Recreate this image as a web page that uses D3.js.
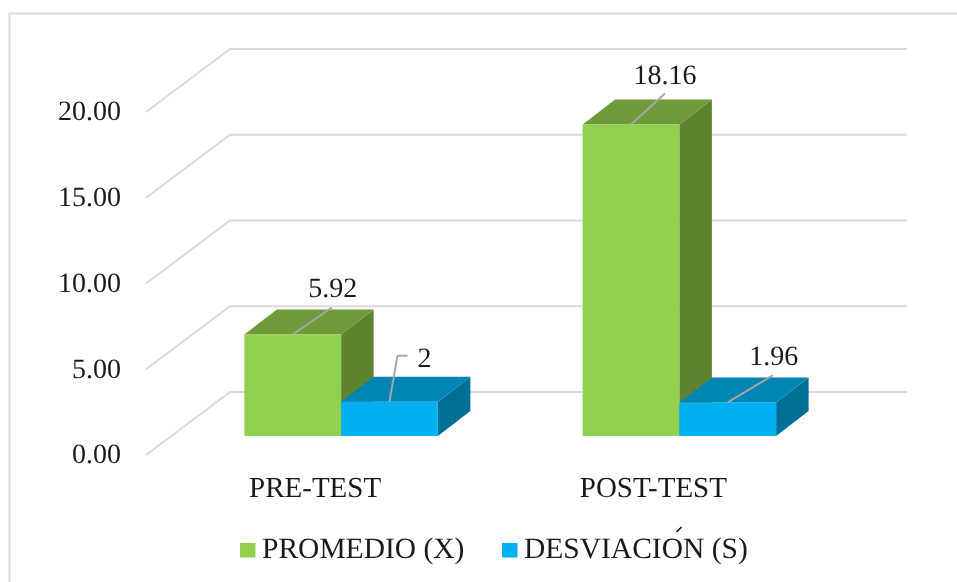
<!DOCTYPE html>
<html>
<head>
<meta charset="utf-8">
<script src="https://cdn.jsdelivr.net/npm/d3@7"></script>
<style>
  html, body { margin: 0; padding: 0; background: #fff; }
  svg { display: block; filter: blur(0.35px); }
  text { font-family: "Liberation Serif", serif; fill: #1a1a1a; text-rendering: geometricPrecision; }
</style>
</head>
<body>
<script>
const categories = ['PRE-TEST', 'POST-TEST'];
const seriesNames = ['PROMEDIO (X)', 'DESVIACION (S)'];
const promedio = [5.92, 18.16];
const desviacion = [2, 1.96];
const tickValues = [0, 5, 10, 15, 20];

const width = 957;
const height = 582;
const fontSize = 28;
const catFontSize = 29;
const legendFontSize = 29.5;

// floor of the fake 3d box
const floorDx = 84;
const floorDy = -63;
const barDepthX = 32.5;
const barDepthY = -25;
const barLift = 19;

const colors = [
  {front: '#92d050', top: '#6f9a3a', side: '#5e8431'},
  {front: '#00b0f0', top: '#0084b4', side: '#006f96'}
];

// where each value label sits relative to the top of its bar
const labelLayout = [
  [{pts: [[39, -27]], tx: 40, ty: -37}, {pts: [[8, -46], [18, -46]], tx: 35, ty: -35}],
  [{pts: [[34, -31]], tx: 34, ty: -41}, {pts: [[45, -27]], tx: 46, ty: -37}]
];

const svg = d3.select('body').append('svg')
  .attr('width', width)
  .attr('height', height);

svg.append('rect').attr('width', width).attr('height', height).attr('fill', '#fff');

// outer frame, only top and left are in the picture
svg.append('path')
  .attr('d', `M9.5,${height + 5} V13.5 H${width + 5}`)
  .attr('fill', 'none')
  .attr('stroke', '#d9d9d9')
  .attr('stroke-width', 2);

const y = d3.scaleLinear().domain([0, 20]).range([455, 112]);

const x0 = d3.scaleBand().domain(categories).range([172, 848.5]);
const x1 = d3.scaleBand().domain(seriesNames)
  .range([x0.bandwidth() / 2 - 96.75, x0.bandwidth() / 2 + 96.75]);

// gridlines
svg.append('g').selectAll('path')
  .data(tickValues)
  .enter()
  .append('path')
  .attr('d', (d) => `M146,${y(d)} l${floorDx},${floorDy} H907`)
  .attr('fill', 'none')
  .attr('stroke', '#d9d9d9')
  .attr('stroke-width', 2);

// y axis, labels only
const yAxis = d3.axisLeft(y)
  .tickValues(tickValues)
  .tickFormat(d3.format('.2f'))
  .tickSize(0)
  .tickPadding(25);

const yG = svg.append('g')
  .attr('transform', 'translate(146, -1)')
  .call(yAxis);
yG.select('.domain').remove();
yG.selectAll('text').style('font-size', fontSize + 'px').style('font-family', '"Liberation Serif", serif');

// x axis, labels only
const xAxis = d3.axisBottom(x0).tickSize(0).tickPadding(0);
const xG = svg.append('g')
  .attr('transform', 'translate(-26, 476.5)')
  .call(xAxis);
xG.select('.domain').remove();
xG.selectAll('text').style('font-size', catFontSize + 'px').style('font-family', '"Liberation Serif", serif');

// bars
const allValues = [promedio, desviacion];
const bars = [];
categories.forEach((cat, i) => {
  seriesNames.forEach((name, s) => {
    bars.push({cat: cat, name: name, s: s, i: i, value: allValues[s][i]});
  });
});

const barG = svg.append('g');
bars.forEach((d) => {
  const left = x0(d.cat) + x1(d.name);
  const right = left + x1.bandwidth();
  const base = y(0) - barLift;
  const top = y(d.value) - barLift;
  const c = colors[d.s];

  barG.append('path')
    .attr('d', `M${right},${top} l${barDepthX},${barDepthY} V${base + barDepthY} L${right},${base} Z`)
    .attr('fill', c.side);
  barG.append('path')
    .attr('d', `M${left},${top} l${barDepthX},${barDepthY} H${right + barDepthX} L${right},${top} Z`)
    .attr('fill', c.top);
  barG.append('rect')
    .attr('x', left)
    .attr('y', top)
    .attr('width', x1.bandwidth())
    .attr('height', base - top)
    .attr('fill', c.front);
});

// value labels with leader lines
bars.forEach((d) => {
  const cx = x0(d.cat) + x1(d.name) + x1.bandwidth() / 2;
  const top = y(d.value) - barLift;
  const lay = labelLayout[d.i][d.s];
  const line = d3.line();

  svg.append('path')
    .attr('d', line([[cx, top]].concat(lay.pts.map((p) => [cx + p[0], top + p[1]]))))
    .attr('fill', 'none')
    .attr('stroke', '#a6a6a6')
    .attr('stroke-width', 2);

  svg.append('text')
    .attr('x', cx + lay.tx)
    .attr('y', top + lay.ty)
    .attr('text-anchor', 'middle')
    .style('font-size', fontSize + 'px')
    .text(d.value);
});

// legend
const legendX = [240, 502];
seriesNames.forEach((name, s) => {
  const g = svg.append('g').attr('transform', `translate(${legendX[s]}, 543)`);
  g.append('rect')
    .attr('width', 15.5)
    .attr('height', 14.5)
    .attr('fill', colors[s].front);
  g.append('text')
    .attr('x', 22)
    .attr('y', 15)
    .style('font-size', legendFontSize + 'px')
    .text(name);
});

// the stray accent over the O of DESVIACION
svg.append('path')
  .attr('d', 'M676.5,532 L681.5,527')
  .attr('stroke', '#000')
  .attr('stroke-width', 1.5);
</script>
</body>
</html>
